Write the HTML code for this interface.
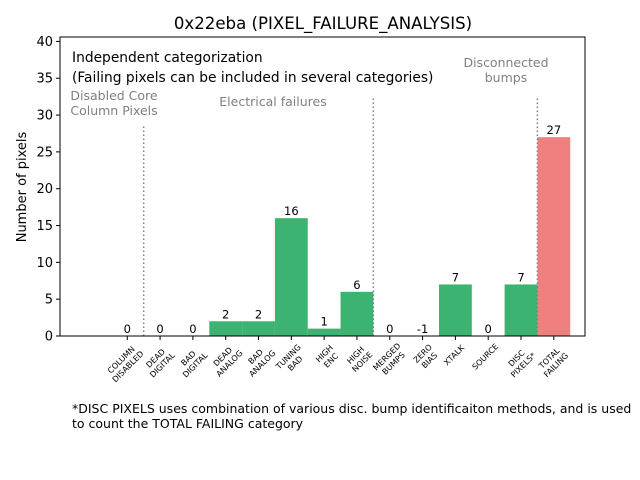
<!DOCTYPE html>
<html><head><meta charset="utf-8"><style>body{margin:0;background:#fff}svg{display:block;font-family:"DejaVu Sans","Liberation Sans",sans-serif}</style></head>
<body>
<svg id="chart" width="640" height="480" xmlns="http://www.w3.org/2000/svg">
<defs><clipPath id="pc"><rect x="60" y="37" width="525" height="299"/></clipPath></defs>
<rect width="640" height="480" fill="#fff"/>
<text x="323" y="29" font-size="16.6" text-anchor="middle">0x22eba (PIXEL_FAILURE_ANALYSIS)</text>
<text transform="translate(26,187) rotate(-90)" font-size="13" text-anchor="middle">Number of pixels</text>
<g id="plot"></g>
<text x="72" y="62" font-size="13.8">Independent categorization</text>
<text x="72" y="82" font-size="13.8">(Failing pixels can be included in several categories)</text>
<g fill="#808080" font-size="12.5" text-anchor="middle">
<text x="114" y="100">Disabled Core</text>
<text x="114" y="115">Column Pixels</text>
<text x="273" y="106">Electrical failures</text>
<text x="506" y="67">Disconnected</text>
<text x="506" y="82">bumps</text>
</g>
<text x="72" y="413" font-size="12.5">*DISC PIXELS uses combination of various disc. bump identificaiton methods, and is used</text>
<text x="72" y="428" font-size="12.5">to count the TOTAL FAILING category</text>
</svg>
<script>
const categories=["COLUMN\nDISABLED","DEAD\nDIGITAL","BAD\nDIGITAL","DEAD\nANALOG","BAD\nANALOG","TUNING\nBAD","HIGH\nENC","HIGH\nNOISE","MERGED\nBUMPS","ZERO\nBIAS","XTALK","SOURCE","DISC\nPIXELS*","TOTAL\nFAILING"];
const values=[0,0,0,2,2,16,1,6,0,-1,7,0,7,27];
const yTicks=[0,5,10,15,20,25,30,35,40];
const separators=[[0.5,28.6],[7.5,32.4],[12.5,32.4]];
const L=60,R=585,T=37,B=336,xmin=-2.05,xmax=13.95,ymin=0,ymax=40.6;
const xs=v=>L+(v-xmin)/(xmax-xmin)*(R-L);
const ys=v=>B-(v-ymin)/(ymax-ymin)*(B-T);
const NS="http://www.w3.org/2000/svg";
const g=document.getElementById('plot');
function mk(t,a,p){const e=document.createElementNS(NS,t);for(const k in a)e.setAttribute(k,a[k]);(p||g).appendChild(e);return e;}
values.forEach((v,i)=>{
  const y0=ys(Math.max(0,v)),y1=ys(Math.min(0,v));
  const r=mk('rect',{x:xs(i-0.5),y:y0,width:xs(i+0.5)-xs(i-0.5),height:Math.max(0,y1-y0),fill:i===13?'#f08080':'#3cb371','clip-path':'url(#pc)'});
  
  
  const t=mk('text',{x:xs(i),y:ys(Math.max(v,0))-3,'font-size':11.5,'text-anchor':'middle'});
  t.textContent=v;
  
  
  mk('line',{x1:xs(i),x2:xs(i),y1:B,y2:B+4,stroke:'#000'});
  const lines=categories[i].split('\n');
  const lg=mk('g',{transform:`translate(${xs(i)+3},${B+8}) rotate(-45)`});
  
  
  const w=Math.max(...lines.map(s=>s.length))*4.4;
  lines.forEach((s,j)=>{const tt=mk('text',{x:-w/2,y:(j+1)*9.5-2,'font-size':8,'text-anchor':'middle'},lg);tt.textContent=s;});
});
separators.forEach(([x,h])=>{
  const l=mk('line',{x1:xs(x),x2:xs(x),y1:B,y2:ys(h),stroke:'#808080','stroke-width':1.5,'stroke-dasharray':'1.5,2.5'});
  
  
});
yTicks.forEach(v=>{
  mk('line',{x1:L-4,x2:L,y1:ys(v),y2:ys(v),stroke:'#000'});
  const t=mk('text',{x:L-7,y:ys(v)+4.5,'font-size':13,'text-anchor':'end'});
  t.textContent=v;
  
  
});
const f=mk('rect',{x:L,y:T,width:R-L,height:B-T,fill:'none',stroke:'#000'});


</script>
</body></html>
